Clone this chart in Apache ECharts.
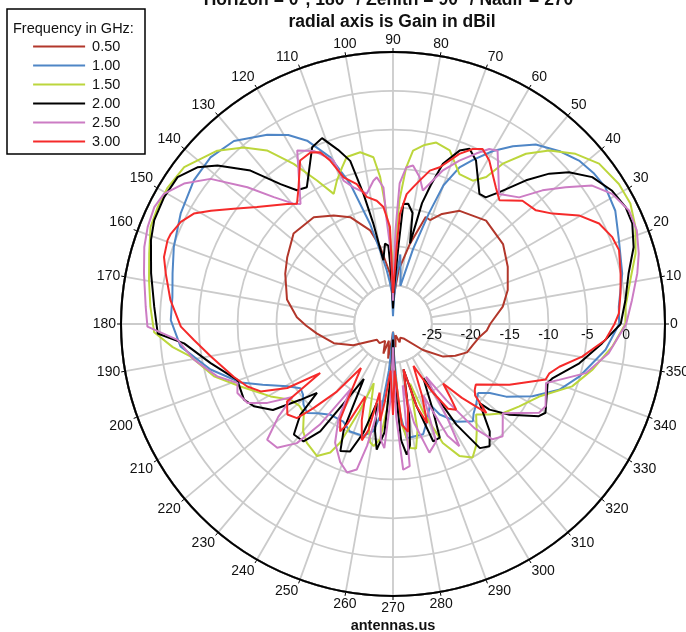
<!DOCTYPE html>
<html><head><meta charset="utf-8">
<script src="https://cdn.jsdelivr.net/npm/echarts/dist/echarts.min.js"></script>
<style>html,body{margin:0;padding:0;background:#fff}#c{width:686px;height:632px}</style>
</head><body><div id="c"></div>
<script>
// Frequencies (legend categories)
const categories = ['0.50', '1.00', '1.50', '2.00', '2.50', '3.00'];
// Angle axis ticks (degrees) and radial axis ticks (dBil)
const angleTicks = { min: 0, max: 360, step: 10 };
const radialTicks = { min: -30, max: 5, step: 5 };

// Each pair: [angle in degrees, gain in dBil]
const g050 = [[0,-17.5],[9,-15.7],[16.5,-14.6],[26.5,-13.5],[36,-12.5],[48,-12.1],[59.5,-13.1],[66,-14.5],[70.4,-15.8],[73,-15.6],[78,-19.4],[84,-23],[90,-27],[93.4,-23.5],[99.5,-19.9],[103.7,-17.6],[111.8,-15.2],[118.7,-14.1],[126.6,-12.9],[137.7,-12.7],[147.7,-13.9],[155,-14.7],[167,-16],[176,-17.6],[181,-18.8],[187,-20.1],[198,-22],[208,-24.2],[224,-27.1],[235,-27],[245,-27.6],[252,-26],[256,-27.8],[262,-25.5],[266,-28],[270,-29],[276,-27],[283,-28.5],[290,-27.5],[298,-28],[306,-27.7],[319,-24.9],[327,-22.3],[333,-21],[339,-19.8],[345,-19.4],[351,-18.8],[356,-17.9],[360,-17.5]];

const g100 = [[0,-0.9],[4.4,-0.86],[12.4,0.2],[20.3,1.0],[27,2.1],[32.8,2.5],[37,2.3],[41.3,1.86],[46,0.9],[51.5,-0.5],[56,-2.4],[60,-4.3],[64,-6.5],[67,-8.1],[70,-11],[72,-15],[75,-20],[79,-25],[82,-23],[84,-21],[86,-24],[88,-27],[90,-29],[92,-26],[94.5,-24.5],[96.7,-23],[100,-20.4],[102.9,-16.8],[107,-11.1],[110.6,-7.1],[115.1,-3.95],[119,-2.2],[123.6,-0.75],[131,1.2],[137.6,1.8],[144.2,1.6],[152.5,0.8],[160.6,-0.1],[167.1,-0.9],[173,-1.4],[179,-1.4],[186,-2.5],[194,-5.8],[201,-9.0],[205,-11.5],[210.5,-14.2],[214.7,-15.5],[218,-15.3],[222,-14.5],[226,-14.1],[230,-15],[235.3,-15.8],[243,-15.9],[248.2,-15.1],[255.2,-15.1],[259.6,-16],[262,-18],[265,-24],[268,-28],[270,-29],[272,-26],[274,-19],[276.8,-15.2],[285.3,-15.3],[290,-17],[294.6,-18.6],[297.3,-16.9],[303.1,-15],[309.4,-13.8],[312,-14.5],[315.9,-15.1],[320.9,-15.9],[324.5,-14.7],[327.3,-12.7],[332.6,-9.8],[338.4,-7],[344.2,-5.1],[353.1,-2.45],[360,-0.9]];

const g150 = [[0,-0.1],[4.2,0.0],[10.5,1.06],[16.2,2.5],[21.8,3.6],[26.9,4.25],[31.8,4.2],[37.9,3.6],[43,2.1],[48,0.03],[52,-2.2],[55.6,-5.0],[57.6,-7.6],[60.9,-8.9],[66.1,-8.9],[71.9,-6.5],[76.6,-6.0],[80,-6.6],[83.4,-7.55],[85.2,-9.8],[87,-14],[88.5,-20],[90,-27],[91,-21],[92,-18.8],[93.8,-14.5],[95,-11],[96.7,-8.4],[100.8,-7.5],[105.5,-7.7],[108,-8.8],[111.4,-10.2],[114.5,-11.6],[117.9,-9.1],[121.8,-5.75],[126,-2.4],[130.2,-0.25],[135.4,1.76],[143.1,3.6],[148.8,3.9],[153.6,3.8],[158.2,3.6],[163.9,2.65],[169.8,1.9],[175.9,1.3],[182,0.75],[186,-1.5],[189.1,-3.6],[196.3,-6.0],[202.3,-8.8],[210.6,-11.7],[216.4,-13.6],[221,-14],[224.9,-13.8],[230,-12],[234.1,-11.1],[240.1,-10.4],[244,-11.6],[246,-13.3],[249,-18],[252,-22],[256,-17],[259,-14.5],[261,-14.1],[263.6,-15.1],[266,-19],[268,-24],[270,-27],[272,-24],[275,-17],[278,-13.9],[280.5,-13.7],[283,-16],[286,-22],[289,-18],[292.7,-13.4],[296.7,-11],[300.8,-10],[304.2,-11],[308,-12.5],[312.6,-14.2],[316.7,-13],[320.9,-11.8],[326.9,-10.6],[333.6,-9.0],[340.8,-5.6],[347,-3.7],[354.1,-1.65],[360,-0.1]];

const g200 = [[0,-0.7],[5.9,0.07],[12.1,1.0],[17.7,2.5],[22.8,3.4],[26.7,3.5],[31.3,3.0],[36.4,1.85],[40.8,-0.1],[43.9,-2.1],[47.2,-4.8],[51.1,-8.2],[53.8,-9.8],[56.4,-9.9],[63.1,-6.4],[66.4,-5.4],[69,-6.1],[72.7,-8.4],[74.8,-11.5],[76.5,-14],[78.1,-19.4],[80,-15.5],[82.8,-14.4],[85.1,-14.5],[86,-20],[88,-25],[90,-28],[91.7,-24.4],[93.4,-19.9],[95.7,-19.6],[98.6,-21.7],[101.1,-16.8],[102.8,-12.8],[104.7,-8.3],[107.5,-6.5],[110.9,-4.4],[114.6,-5.0],[122.2,-9.2],[125.7,-8.8],[128.8,-6.9],[132.9,-3.05],[137.9,0.44],[141.3,2.25],[145.7,3.55],[151,3.67],[156.5,3.5],[160.9,2.96],[168.2,1.8],[175.9,0.8],[182.3,0.3],[185.3,-3.0],[192.1,-6.0],[199.7,-8.7],[206.9,-8.5],[210.6,-9.2],[215.6,-11],[219.3,-14.6],[222.2,-16.8],[224.4,-13.3],[228.1,-10.9],[232.7,-11],[235.9,-13.3],[238.6,-18.6],[242,-22],[245,-15],[247.5,-12.3],[251.4,-12.7],[254.8,-15.5],[258.4,-19.6],[260.5,-16],[262.6,-13.7],[265.5,-16],[268,-24],[270,-28],[272,-22],[274,-15],[276,-13.1],[278,-14.3],[280,-18],[283,-24],[286,-19],[288.9,-14.05],[292.4,-14.2],[295,-18],[299.2,-22],[302.2,-14.7],[305,-10.5],[308.3,-9.95],[312,-11.4],[317.6,-14.9],[318.4,-13.4],[322.1,-11],[327.7,-7.8],[329.8,-7.3],[339.1,-8.7],[341.3,-8.3],[348.1,-5.5],[354.7,-3.0],[360,-0.7]];

const g250 = [[0,0.0],[5.7,0.9],[11.7,2.1],[16,2.9],[21,3.6],[25.7,3.7],[30.7,2.8],[34.8,1.2],[38.4,-1.65],[41.8,-4.2],[45.1,-7.0],[50.8,-8.4],[58.9,-3.95],[61.2,-4.3],[64,-5.6],[67.9,-7.3],[72,-9.2],[77.4,-12.4],[79.7,-10.8],[82.8,-9.45],[85.2,-9.8],[87.3,-11.9],[88.5,-18],[90,-27],[91.5,-21],[93.5,-16.6],[94,-12.4],[96.3,-11.0],[97.8,-11.4],[101.4,-12.9],[106.1,-11.7],[109,-10.5],[110,-7.6],[114.6,-5.5],[118.9,-4.5],[127.6,-10.5],[129.6,-9.9],[133.2,-7.6],[136.8,-4.3],[141.5,0.0],[146.1,2.4],[150.4,3.9],[153.9,4.2],[158.4,3.95],[162.8,3.5],[168.5,2.7],[176,1.9],[180.6,1.6],[184.2,-2.2],[190.2,-4.0],[196.6,-6.4],[200.8,-8.6],[203.9,-8.1],[208.5,-8.7],[212.1,-10.9],[216,-14],[219,-11],[222.6,-8.0],[226.9,-8.2],[231.1,-10.3],[234,-14],[237,-20],[240,-16],[244,-13],[249,-11],[252.8,-10],[256,-10.7],[258,-14],[261,-20],[264,-15],[266,-14],[268,-20],[270,-27],[272,-18],[274,-11.2],[276.7,-11.6],[279,-22],[282,-17],[285.8,-12.8],[290.2,-13.9],[293,-20],[296,-14],[298.5,-12.1],[300,-16],[302,-22],[305,-18],[308,-13],[310.8,-10.4],[314.3,-9.8],[318,-11],[320.9,-11.8],[328.7,-8.0],[331.7,-7.7],[338.9,-8.9],[341.4,-7.45],[345.7,-4.4],[352.3,-2.0],[360,0.0]];

const g300 = [[0,-1.5],[2.7,-0.9],[7.7,-0.46],[12.5,0.0],[18.1,0.6],[21.6,0.35],[26,-0.5],[30.3,-2.3],[34.7,-5.05],[38.5,-6.5],[43.6,-7.0],[49.3,-9.0],[53,-8.0],[59.5,-5.6],[62.9,-4.7],[65.5,-5.25],[68.7,-6.5],[70.9,-7.75],[73.4,-8.95],[76.5,-9.7],[79.4,-11.2],[81.6,-12.2],[84,-13.2],[86.4,-15.8],[87.3,-20.1],[89,-25],[90,-26],[91.8,-17.5],[94.7,-14.9],[97.5,-14.0],[101.7,-13.3],[104.5,-11.4],[108.6,-10.1],[111,-7.5],[113,-6],[115.7,-5.5],[119.6,-5.8],[124.6,-8.6],[128.6,-10.2],[131.4,-9.4],[139.3,-6.9],[144.1,-4.7],[148.1,-2.4],[151,-0.7],[154.3,0.3],[157.9,0.86],[159.6,0.95],[163.7,0.7],[167.5,-0.05],[173.9,-1.2],[180.7,-2.7],[184.6,-4.3],[190.1,-6.2],[198.3,-8.4],[203.2,-9.6],[207,-10.9],[211.2,-14.1],[214,-18.7],[216.2,-13.1],[220.6,-12.1],[224.4,-12.7],[226.6,-15.1],[230.3,-18.7],[234,-23],[238,-20],[241,-16],[243.8,-14.6],[245.4,-15.8],[249,-20],[252,-17],[255,-14.5],[257,-16],[259,-21],[262.4,-17.4],[264,-20],[267,-24],[270,-18.3],[272,-24],[275,-17],[278,-16],[280,-19],[283,-24],[286,-19],[289,-16.5],[292,-20],[296,-24],[300,-20],[303,-17],[306.4,-16.3],[308,-18],[310.1,-20],[313,-17],[316.4,-13.4],[319,-16],[321.2,-16.5],[323.8,-16.8],[332.4,-13.1],[340,-9.1],[342.5,-8.9],[345.6,-7.9],[350.2,-5.3],[355.7,-2.6],[360,-1.5]];

const seriesValues = [g050, g100, g150, g200, g250, g300];
const seriesColors = ['#b2372b', '#4f86c6', '#bcd63c', '#000000', '#cc7cc4', '#f52a2a'];

const FONT = '"Liberation Sans", Arial, sans-serif';
const CX = 393, CY = 324, R = 272;
const innerR = R * (-25 - radialTicks.min) / (radialTicks.max - radialTicks.min);

const chart = echarts.init(document.getElementById('c'), null, { renderer: 'canvas' });
const option = {
  animation: false,
  backgroundColor: '#fff',
  polar: { center: [CX, CY], radius: R },
  angleAxis: {
    type: 'value', min: angleTicks.min, max: angleTicks.max, interval: angleTicks.step,
    startAngle: 0, clockwise: false, z: 0,
    axisLine: { show: true, lineStyle: { color: '#000', width: 2 } },
    axisTick: { show: true, length: 4, lineStyle: { color: '#000', width: 1 } },
    axisLabel: { margin: 5, color: '#111', fontSize: 14, fontFamily: FONT,
      formatter: v => (v === 360 ? '' : String(v)) },
    splitLine: { show: true, lineStyle: { color: '#cbcbcb', width: 1.8 } }
  },
  radiusAxis: {
    type: 'value', min: radialTicks.min, max: radialTicks.max, interval: radialTicks.step, z: 2,
    axisLine: { show: false }, axisTick: { show: false },
    axisLabel: { color: '#111', fontSize: 14, fontFamily: FONT, margin: -18,
      formatter: v => ((v === radialTicks.min || v === radialTicks.max) ? '' : String(v)) },
    splitLine: { show: true, lineStyle: { color: '#cbcbcb', width: 1.8 } }
  },
  legend: {
    orient: 'vertical', left: 32, top: 39, itemWidth: 52, itemHeight: 14, itemGap: 4,
    padding: 0, data: categories, z: 10,
    itemStyle: { opacity: 0, borderWidth: 0 },
    lineStyle: { width: 2.2 },
    textStyle: { fontSize: 14.5, color: '#111', fontFamily: FONT, padding: [0, 0, 0, 2] }
  },
  series: categories.map((name, i) => ({
    name, type: 'line', coordinateSystem: 'polar', z: 3,
    symbol: 'none', smooth: false, silent: true,
    color: seriesColors[i],
    lineStyle: { color: seriesColors[i], width: 2 },
    data: seriesValues[i].map(p => [p[1], p[0]])
  })),
  graphic: [
    { type: 'circle', z: 1, shape: { cx: CX, cy: CY, r: innerR },
      style: { fill: '#fff', stroke: '#cbcbcb', lineWidth: 1.8 } },
    { type: 'circle', z: 2.5, silent: true, shape: { cx: CX, cy: CY, r: R },
      style: { fill: null, stroke: '#000', lineWidth: 2 } },
    { type: 'rect', z: 1, shape: { x: 7, y: 9, width: 138, height: 145 },
      style: { fill: '#fff', stroke: '#000', lineWidth: 1.5 } },
    { type: 'text', z: 11, x: 13, y: 29,
      style: { text: 'Frequency in GHz:', fill: '#111', font: '14.5px ' + FONT, textAlign: 'left', textVerticalAlign: 'middle' } },
    { type: 'text', z: 11, x: 392, y: 0,
      style: { text: 'Horizon = 0°, 180° / Zenith = 90° / Nadir = 270°', fill: '#111', font: 'bold 17.5px ' + FONT, textAlign: 'center', textVerticalAlign: 'middle' } },
    { type: 'text', z: 11, x: 392, y: 22,
      style: { text: 'radial axis is Gain in dBil', fill: '#111', font: 'bold 17.5px ' + FONT, textAlign: 'center', textVerticalAlign: 'middle' } },
    { type: 'text', z: 11, x: 393, y: 626,
      style: { text: 'antennas.us', fill: '#111', font: 'bold 14.5px ' + FONT, textAlign: 'center', textVerticalAlign: 'middle' } }
  ]
};
chart.setOption(option);
</script>
</body></html>
